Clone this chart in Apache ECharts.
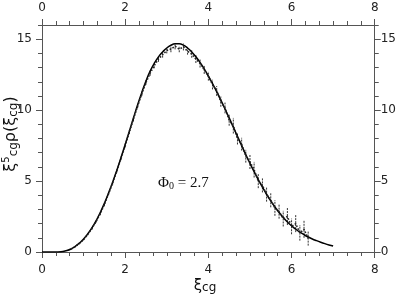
<!DOCTYPE html>
<html>
<head>
<meta charset="utf-8">
<script src="https://cdn.jsdelivr.net/npm/echarts@6/dist/echarts.min.js"></script>
<style>html,body{margin:0;padding:0;background:#fff}#c{width:399px;height:297px}</style>
</head>
<body>
<div id="c"></div>
<script>
// Solid model curve
const curveX = [0, 0.3, 0.5, 0.6, 0.7, 0.8, 0.9, 1.0, 1.1, 1.2, 1.3, 1.4, 1.5, 1.6, 1.7, 1.8, 1.9, 2.0, 2.1, 2.2, 2.3, 2.4, 2.5, 2.6, 2.7, 2.8, 2.9, 3.0, 3.1, 3.2, 3.3, 3.4, 3.5, 3.6, 3.7, 3.8, 3.9, 4.0, 4.1, 4.2, 4.3, 4.4, 4.5, 4.6, 4.7, 4.8, 4.9, 5.0, 5.1, 5.2, 5.3, 5.4, 5.5, 5.6, 5.7, 5.8, 5.9, 6.0, 6.1, 6.2, 6.3, 6.4, 6.5, 6.6, 6.7, 6.8, 6.9, 7.0];
const curveY = [0, 0.0, 0.04, 0.1, 0.22, 0.4, 0.63, 0.92, 1.28, 1.7, 2.2, 2.78, 3.43, 4.15, 4.93, 5.77, 6.66, 7.58, 8.52, 9.46, 10.38, 11.25, 12.05, 12.75, 13.3, 13.75, 14.1, 14.38, 14.57, 14.67, 14.68, 14.58, 14.38, 14.1, 13.76, 13.36, 12.9, 12.4, 11.87, 11.3, 10.7, 10.08, 9.45, 8.8, 8.15, 7.5, 6.87, 6.25, 5.66, 5.1, 4.57, 4.07, 3.6, 3.17, 2.78, 2.43, 2.12, 1.85, 1.61, 1.4, 1.22, 1.06, 0.92, 0.8, 0.69, 0.59, 0.5, 0.42];

// Measured data with error bars
const dataX = [0.7, 0.8, 0.9, 1.0, 1.1, 1.2, 1.3, 1.4, 1.5, 1.6, 1.7, 1.8, 1.9, 2.0, 2.1, 2.2, 2.3, 2.4, 2.5, 2.6, 2.7, 2.8, 2.9, 3.0, 3.1, 3.2, 3.3, 3.4, 3.5, 3.6, 3.7, 3.8, 3.9, 4.0, 4.1, 4.2, 4.3, 4.4, 4.5, 4.6, 4.7, 4.8, 4.9, 5.0, 5.1, 5.2, 5.3, 5.4, 5.5, 5.6, 5.7, 5.8, 5.9, 6.0, 6.1, 6.2, 6.3, 6.4];
const dataY = [0.2, 0.38, 0.6, 0.88, 1.24, 1.66, 2.15, 2.7, 3.35, 4.1, 4.88, 5.72, 6.6, 7.5, 8.45, 9.38, 10.3, 11.15, 11.95, 12.6, 13.15, 13.6, 13.9, 14.2, 14.3, 14.5, 14.3, 14.45, 14.15, 13.95, 13.6, 13.3, 12.85, 12.4, 11.8, 11.35, 10.6, 10.15, 9.3, 8.9, 8.0, 7.6, 6.75, 6.35, 5.8, 5.0, 4.7, 4.05, 3.65, 3.1, 2.85, 2.35, 2.5, 1.8, 2.0, 1.35, 1.6, 0.95];
const dataErr = [0.03, 0.04, 0.05, 0.06, 0.07, 0.08, 0.08, 0.1, 0.1, 0.1, 0.12, 0.12, 0.12, 0.14, 0.14, 0.15, 0.15, 0.16, 0.16, 0.18, 0.2, 0.2, 0.2, 0.2, 0.22, 0.22, 0.22, 0.24, 0.24, 0.26, 0.28, 0.3, 0.3, 0.32, 0.34, 0.35, 0.36, 0.38, 0.4, 0.55, 0.42, 0.45, 0.45, 0.5, 0.55, 0.5, 0.5, 0.5, 0.5, 0.55, 0.5, 0.55, 0.6, 0.55, 0.6, 0.55, 0.6, 0.5];

const xTicks = [0, 2, 4, 6, 8];
const yTicks = [0, 5, 10, 15];
const yMax = 16;

const chart = echarts.init(document.getElementById('c'), null, {renderer: 'canvas'});
const axisCol = '#555';
const lblFont = {fontFamily: 'DejaVu Sans', fontSize: 12, color: '#222'};

function xAx(pos, margin) {
  return {
    type: 'value', position: pos, min: xTicks[0], max: xTicks[xTicks.length - 1], interval: 2,
    axisLine: {show: true, onZero: false, lineStyle: {color: axisCol, width: 1}},
    axisTick: {show: true, inside: false, length: 6, lineStyle: {color: axisCol}},
    minorTick: {show: true, splitNumber: 6, length: 4, lineStyle: {color: axisCol}},
    splitLine: {show: false},
    axisLabel: Object.assign({margin: margin}, lblFont)
  };
}
function yAxMajor(pos, margin) {
  return {
    type: 'value', position: pos, min: 0, max: yMax, interval: 5,
    axisLine: {show: true, onZero: false, lineStyle: {color: axisCol, width: 1}},
    axisTick: {show: true, inside: false, length: 6, lineStyle: {color: axisCol}, customValues: yTicks},
    minorTick: {show: false},
    splitLine: {show: false},
    axisLabel: Object.assign({margin: margin, customValues: yTicks}, lblFont)
  };
}
function yAxMinor(pos) {
  return {
    type: 'value', position: pos, min: 0, max: yMax, interval: 1,
    axisLine: {show: false, onZero: false},
    axisTick: {show: true, inside: false, length: 4, lineStyle: {color: axisCol}},
    splitLine: {show: false},
    axisLabel: {show: false}
  };
}

const measured = dataX.map((x, i) => [x, dataY[i], dataErr[i]]);

chart.setOption({
  animation: false,
  backgroundColor: '#fff',
  grid: {left: 42, right: 24, top: 25, bottom: 45, containLabel: false},
  xAxis: [xAx('bottom', 12), xAx('top', 11)],
  yAxis: [yAxMajor('left', 10), yAxMajor('right', 6), yAxMinor('left'), yAxMinor('right')],
  series: [
    {
      type: 'line', xAxisIndex: 0, yAxisIndex: 0,
      data: curveX.map((x, i) => [x, curveY[i]]),
      smooth: true, showSymbol: false,
      lineStyle: {color: '#000', width: 1.5}
    },
    {
      type: 'line', xAxisIndex: 0, yAxisIndex: 0,
      data: measured.map(d => [d[0], d[1]]),
      showSymbol: false,
      lineStyle: {color: '#222', width: 1.6, type: 'dotted'}
    },
    {
      type: 'custom', xAxisIndex: 0, yAxisIndex: 0,
      data: measured,
      renderItem: function (params, api) {
        const x = api.value(0), y = api.value(1), e = api.value(2);
        const p1 = api.coord([x, y - e]);
        const p2 = api.coord([x, y + e]);
        return {
          type: 'line',
          shape: {x1: p1[0], y1: p1[1], x2: p2[0], y2: p2[1]},
          style: {stroke: '#333', lineWidth: 1, lineDash: [2, 1]}
        };
      }
    }
  ],
  graphic: [
    {
      type: 'text', left: 158, top: 176,
      style: {
        text: '{a|Φ}{s|0}{a| = 2.7}',
        rich: {
          a: {fontFamily: 'Liberation Serif', fontSize: 15, fill: '#111', color: '#111'},
          s: {fontFamily: 'Liberation Serif', fontSize: 10, fill: '#111', color: '#111', padding: [6, 0, 0, 0]}
        }
      }
    },
    {
      type: 'text', x: 205, y: 286,
      style: {
        text: '{a|ξ}{s|cg}', align: 'center', verticalAlign: 'middle',
        rich: {
          a: {fontFamily: 'DejaVu Sans', fontSize: 15, fill: '#111', color: '#111'},
          s: {fontFamily: 'DejaVu Sans', fontSize: 12, fill: '#111', color: '#111', padding: [4, 0, 0, 0]}
        }
      }
    },
    {
      type: 'text', x: 11, y: 134, rotation: Math.PI / 2,
      style: {
        text: '{a|ξ}{p|5}{s|cg}{a|ρ(ξ}{s|cg}{a|)}', align: 'center', verticalAlign: 'middle',
        rich: {
          a: {fontFamily: 'DejaVu Sans', fontSize: 16, fill: '#111', color: '#111'},
          p: {fontFamily: 'DejaVu Sans', fontSize: 10, fill: '#111', color: '#111', padding: [0, 0, 9, 0]},
          s: {fontFamily: 'DejaVu Sans', fontSize: 12, fill: '#111', color: '#111', padding: [5, 0, 0, 0]}
        }
      }
    }
  ]
});
</script>
</body>
</html>
